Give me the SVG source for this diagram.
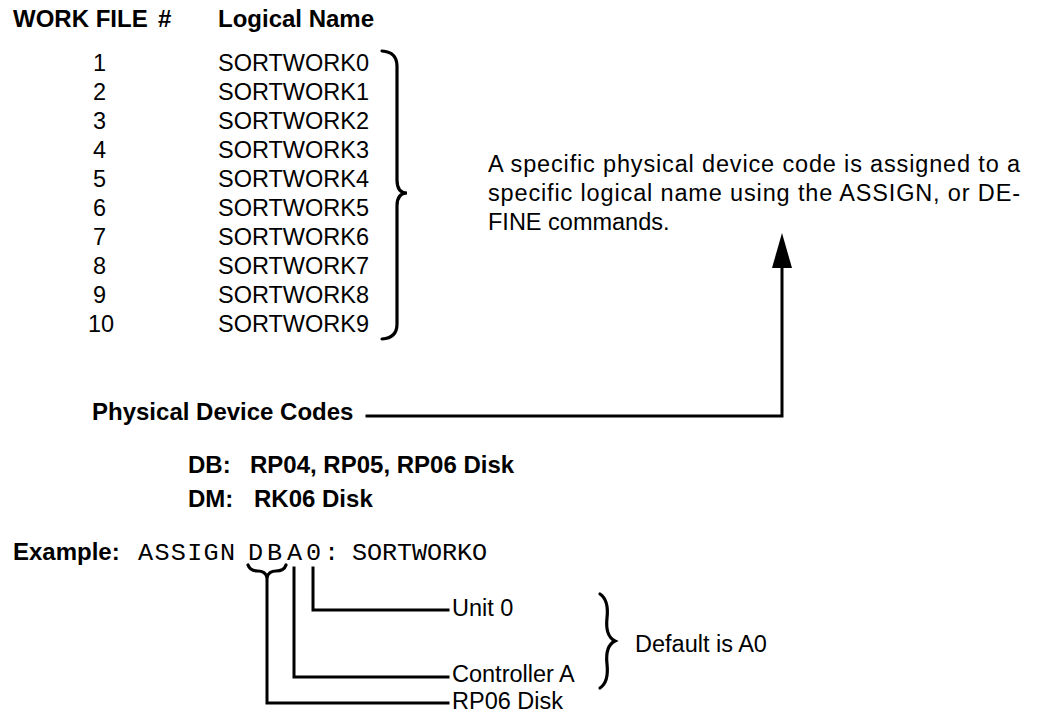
<svg xmlns="http://www.w3.org/2000/svg" width="1041" height="724" viewBox="0 0 1041 724">
<style>
.t{font-family:"Liberation Sans",Arial,sans-serif;font-size:23.5px;fill:#000}
.b{font-weight:bold;font-size:24px}
.m{font-family:"Liberation Mono","DejaVu Sans Mono",monospace;font-size:24px;fill:#000}
.ln{fill:none;stroke:#000;stroke-width:3;stroke-linecap:square;stroke-linejoin:miter}
.br{fill:none;stroke:#000;stroke-width:3.2;stroke-linecap:round}
</style>
<rect width="1041" height="724" fill="#fff"/>
<g id="header">
<text class="t b" x="13" y="27">WORK FILE</text>
<text class="t b" x="158" y="27">#</text>
<text class="t b" x="218" y="27">Logical Name</text>
</g>
<g id="table">
<text class="t" x="93" y="71">1</text><text class="t" x="218" y="71">SORTWORK0</text>
<text class="t" x="93" y="100">2</text><text class="t" x="218" y="100">SORTWORK1</text>
<text class="t" x="93" y="129">3</text><text class="t" x="218" y="129">SORTWORK2</text>
<text class="t" x="93" y="158">4</text><text class="t" x="218" y="158">SORTWORK3</text>
<text class="t" x="93" y="187">5</text><text class="t" x="218" y="187">SORTWORK4</text>
<text class="t" x="93" y="216">6</text><text class="t" x="218" y="216">SORTWORK5</text>
<text class="t" x="93" y="245">7</text><text class="t" x="218" y="245">SORTWORK6</text>
<text class="t" x="93" y="274">8</text><text class="t" x="218" y="274">SORTWORK7</text>
<text class="t" x="93" y="303">9</text><text class="t" x="218" y="303">SORTWORK8</text>
<text class="t" x="88" y="332">10</text><text class="t" x="218" y="332">SORTWORK9</text>
</g>
<g id="brace-main">
<path class="br" d="M382,51 Q397,52 397,66 L397,180 Q397,193 407,193 Q397,193 397,206 L397,324 Q397,338 382,339"/>
</g>
<g id="note">
<text class="t" x="488" y="172" textLength="532" lengthAdjust="spacing">A specific physical device code is assigned to a</text>
<text class="t" x="488" y="201" textLength="532" lengthAdjust="spacing">specific logical name using the ASSIGN, or DE-</text>
<text class="t" x="488" y="230">FINE commands.</text>
</g>
<g id="physical">
<text class="t b" x="92" y="420">Physical Device Codes</text>
<text class="t b" x="188" y="473">DB:</text><text class="t b" x="250" y="473">RP04, RP05, RP06 Disk</text>
<text class="t b" x="188" y="507">DM:</text><text class="t b" x="254" y="507">RK06 Disk</text>
</g>
<g id="example">
<text class="t b" x="13" y="560">Example:</text>
<g transform="scale(1.05 1)">
<text class="m" x="131.43 147.05 162.67 178.29 193.9 209.52" y="560">ASSIGN</text>
<text class="m" x="236.19 254.29 273.33 291.43 308.57" y="560">DBA0:</text>
<text class="m" x="335.24 349.52 363.81 378.1 392.38 406.67 420.95 435.24 449.52" y="560">SORTWORKO</text>
</g>
<text class="t" x="452" y="616">Unit 0</text>
<text class="t" x="452" y="682">Controller A</text>
<text class="t" x="452" y="709">RP06 Disk</text>
<path class="br" d="M600,594 Q609,600 607,618 Q605,636 615,641 Q605,646 607,664 Q609,682 600,688"/>
<text class="t" x="635" y="652">Default is A0</text>
</g>
<g id="connectors">
<path class="ln" d="M367,416 L782,416 L782,262"/>
<polygon points="782,233 772,268 792,268" fill="#000"/>
<path class="br" stroke-width="2.5" d="M248,565 Q250,571 258,571 Q265,571 267,577 Q269,571 276,571 Q284,571 286,565"/>
<path class="ln" d="M267,577 L267,703 L448,703"/>
<path class="ln" d="M294,568 L294,677 L448,677"/>
<path class="ln" d="M313,568 L313,610 L448,610"/>
</g>
</svg>
